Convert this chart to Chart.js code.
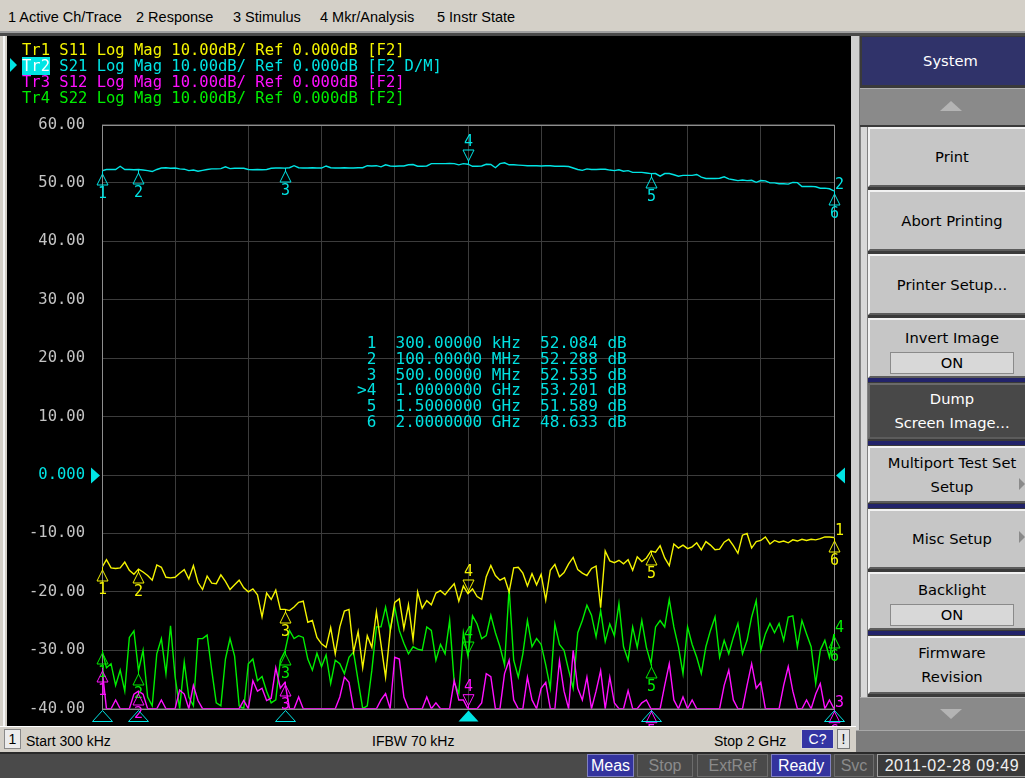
<!DOCTYPE html>
<html lang="en">
<head>
<meta charset="utf-8">
<title>E5071C – S-parameter display</title>
<script src="https://cdn.jsdelivr.net/npm/chart.js@4.4.1/dist/chart.umd.min.js"></script>
<style>
  html,body{margin:0;padding:0;}
  body{width:1025px;height:778px;overflow:hidden;position:relative;background:#d4d0c8;font-family:"DejaVu Sans",sans-serif;}
  .abs{position:absolute;box-sizing:border-box;}
  #menubar{left:0;top:0;width:1025px;height:31px;font:14.5px "Liberation Sans",sans-serif;color:#000;}
  #menubar span{position:absolute;top:9px;white-space:nowrap;}
  #win{left:7px;top:36px;width:844px;height:690px;background:#000;overflow:hidden;}
  #hdr{left:22px;top:42px;font:15.5px "DejaVu Sans Mono",monospace;line-height:16px;white-space:pre;}
  #hdr .act{background:#00e4e4;color:#fff;}
  #actArrow{left:10px;top:58px;width:0;height:0;border-top:7px solid transparent;border-bottom:7px solid transparent;border-left:7px solid #00e4e4;}
  #mkrtbl{left:357px;top:335px;font:16px "DejaVu Sans Mono",monospace;line-height:15.8px;white-space:pre;color:#00e0e0;}
  .sk{position:absolute;left:868px;width:166px;background:#c6c6c6;border-top:2px solid #f2f2f2;border-left:2px solid #f2f2f2;border-bottom:2px solid #5c5c5c;box-sizing:border-box;display:flex;flex-direction:column;align-items:center;justify-content:center;font:14.7px "DejaVu Sans",sans-serif;color:#000;line-height:24px;text-align:center;white-space:nowrap;}
  .sk .box{width:124px;height:22px;line-height:20px;background:#d8d8d8;border:1px solid #8a8a8a;box-sizing:border-box;margin-top:2px;}
  .nav{position:absolute;left:868px;width:157px;height:4px;background:#22236a;}
  .st{position:absolute;font:14px "Liberation Sans",sans-serif;color:#000;white-space:nowrap;top:733px;}
  .bb{position:absolute;top:754px;height:23px;box-sizing:border-box;font:16px "Liberation Sans",sans-serif;line-height:21px;text-align:center;white-space:nowrap;}
</style>
</head>
<body>
<div id="menubar" class="abs">
  <span style="left:8px">1 Active Ch/Trace</span>
  <span style="left:136px">2 Response</span>
  <span style="left:233px">3 Stimulus</span>
  <span style="left:320px">4 Mkr/Analysis</span>
  <span style="left:437px">5 Instr State</span>
</div>
<div class="abs" style="left:0;top:31px;width:1025px;height:2px;background:#a0a0a0"></div>
<div class="abs" style="left:0;top:33px;width:1025px;height:3px;background:#4a4a4a"></div>
<div class="abs" style="left:3px;top:36px;width:2px;height:690px;background:#f6f6f6"></div>

<div id="win" class="abs"><canvas id="vna" width="844" height="699"></canvas></div>
<div id="actArrow" class="abs"></div>
<div id="hdr" class="abs"></div>
<div id="mkrtbl" class="abs"></div>

<!-- softkey panel -->
<div class="abs" style="left:851px;top:36px;width:9px;height:694px;background:#cfcfcf;border-right:1px solid #7a7a7a"></div>
<div class="abs" style="left:860px;top:36px;width:165px;height:694px;background:#3a3a3a"></div>
<div class="abs" style="left:860px;top:127px;width:8px;height:570px;background:#d8d8d8;border-left:1px solid #808080;border-right:1px solid #808080"></div>
<div class="abs" style="left:862px;top:37px;width:163px;height:48px;background:#30336a;color:#fff;font:14.7px 'DejaVu Sans',sans-serif;text-align:center;line-height:48px;padding-left:14px">System</div>
<div class="abs" style="left:860px;top:88px;width:165px;height:37px;background:#8a8a8a;border-top:1px solid #b0b0b0"></div>
<div class="abs" style="left:940px;top:101px;width:0;height:0;border-left:11px solid transparent;border-right:11px solid transparent;border-bottom:10px solid #b4b4b4"></div>

<div class="sk" style="top:127px;height:60px">Print</div>
<div class="sk" style="top:190px;height:61px">Abort Printing</div>
<div class="sk" style="top:254px;height:61px">Printer Setup...</div>
<div class="sk" style="top:318px;height:60px;justify-content:flex-start;padding-top:6px">Invert Image<div class="box">ON</div></div>
<div class="nav" style="top:378px"></div>
<div class="sk" style="top:383px;height:56px;background:#484848;color:#fff;border-top-color:#6a6a6a;border-left-color:#6a6a6a">Dump<br>Screen Image...</div>
<div class="nav" style="top:441px"></div>
<div class="sk" style="top:446px;height:57px">Multiport Test Set<br>Setup</div>
<div class="nav" style="top:504px"></div>
<div class="sk" style="top:509px;height:60px">Misc Setup</div>
<div class="sk" style="top:572px;height:58px;justify-content:flex-start;padding-top:4px">Backlight<div class="box">ON</div></div>
<div class="nav" style="top:631px"></div>
<div class="sk" style="top:636px;height:58px">Firmware<br>Revision</div>
<div class="abs" style="left:1019px;top:478px;width:0;height:0;border-top:6px solid transparent;border-bottom:6px solid transparent;border-left:6px solid #8a8a8a"></div>
<div class="abs" style="left:1019px;top:531px;width:0;height:0;border-top:6px solid transparent;border-bottom:6px solid transparent;border-left:6px solid #8a8a8a"></div>
<div class="abs" style="left:860px;top:697px;width:165px;height:33px;background:#8a8a8a;border-top:1px solid #b0b0b0"></div>
<div class="abs" style="left:940px;top:709px;width:0;height:0;border-left:11px solid transparent;border-right:11px solid transparent;border-top:10px solid #b4b4b4"></div>

<!-- channel status line -->
<div class="abs" style="left:0;top:726px;width:856px;height:26px;background:#d4d0c8;border-top:1px solid #ffffff"></div>
<div class="abs" style="left:856px;top:730px;width:169px;height:22px;background:#7c7c7c;border-top:1px solid #a8a8a8"></div>
<div class="abs" style="left:4px;top:729px;width:17px;height:20px;background:#ececec;border:1px solid #8a8a8a;font:14px 'Liberation Sans',sans-serif;text-align:center;line-height:18px">1</div>
<div class="st" style="left:26px">Start 300 kHz</div>
<div class="st" style="left:372px">IFBW 70 kHz</div>
<div class="st" style="left:714px">Stop 2 GHz</div>
<div class="abs" style="left:801px;top:729px;width:33px;height:20px;background:#3434a4;border:1px solid #d8d8d8;color:#fff;font:14px 'Liberation Sans',sans-serif;text-align:center;line-height:18px">C?</div>
<div class="abs" style="left:837px;top:729px;width:13px;height:20px;background:#e4e4e4;border:1px solid #777;font:14px 'Liberation Sans',sans-serif;text-align:center;line-height:18px">!</div>

<!-- instrument status bar -->
<div class="abs" style="left:0;top:752px;width:1025px;height:26px;background:#4a4a4a;border-top:2px solid #2a2a2a"></div>
<div class="bb" style="left:587px;width:47px;background:#33339e;color:#fff;border:1px solid #8080c0">Meas</div>
<div class="bb" style="left:637px;width:56px;color:#8a8a8a;border:1px solid #6c6c6c">Stop</div>
<div class="bb" style="left:697px;width:71px;color:#8a8a8a;border:1px solid #6c6c6c">ExtRef</div>
<div class="bb" style="left:771px;width:60px;background:#33339e;color:#fff;border:1px solid #8080c0">Ready</div>
<div class="bb" style="left:834px;width:40px;color:#8a8a8a;border:1px solid #6c6c6c">Svc</div>
<div class="bb" style="left:877px;width:150px;color:#f0f0f0;background:#3a3a3a;border:1px solid #a0a0a0;letter-spacing:0.6px">2011-02-28 09:49</div>

<script>
// ---- sweep (stimulus) -------------------------------------------------------
const sweepStartMHz = 0.3;
const sweepStopMHz = 2000;
const sweepStepMHz = 12.5;
const sweepFreqMHz = [];
for (let i = 0; i * sweepStepMHz <= sweepStopMHz; i++) {
  sweepFreqMHz.push(i === 0 ? sweepStartMHz : i * sweepStepMHz);
}

// ---- measured traces, log magnitude in dB (161 points each) -----------------
const s21LogMagDb = [
  52.084, 52.3, 52.3, 52.3, 52.85, 52.3, 52.3, 52.25, 52.288, 52.2,
  52.1, 51.95, 52.3, 52.55, 52.6, 52.5, 52.55, 52.4, 52.35, 52.1,
  52.2, 52.0, 52.15, 52.3, 52.4, 52.4, 52.45, 52.75, 52.45, 52.5,
  52.5, 52.5, 52.3, 52.25, 52.3, 52.25, 52.3, 52.5, 52.55, 52.55,
  52.535, 52.6, 52.95, 52.6, 52.55, 52.55, 52.6, 52.55, 52.55, 52.9,
  52.6, 52.55, 52.55, 52.6, 52.55, 52.55, 52.6, 52.6, 52.95, 52.9,
  52.95, 52.75, 53.1, 52.9, 52.85, 52.9, 52.9, 53.1, 53.15, 52.85,
  52.85, 52.9, 53.3, 53.3, 53.3, 53.3, 53.35, 53.3, 53.1, 53.3,
  53.201, 52.85, 52.85, 52.9, 53.2, 53.15, 52.6, 53.3, 53.45, 53.1,
  53.1, 53.05, 53.0, 52.95, 52.95, 52.95, 52.9, 52.95, 52.95, 52.85,
  52.85, 52.85, 52.8, 52.55, 52.3, 52.15, 52.4, 52.3, 52.3, 52.35,
  52.35, 52.2, 52.1, 52.25, 52.0, 52.1, 51.8, 51.8, 51.8, 51.7,
  51.589, 51.6, 51.15, 51.6, 51.6, 51.4, 51.15, 51.3, 51.3, 51.3,
  51.45, 51.0, 50.75, 50.75, 50.75, 50.8, 51.05, 50.7, 50.55, 50.4,
  50.5, 50.4, 50.45, 50.1, 50.4, 50.35, 50.0, 50.0, 49.85, 49.85,
  49.8, 50.1, 50.05, 49.4, 49.4, 49.4, 49.35, 49.1, 49.1, 49.0,
  48.633
];
const s11LogMagDb = [
  -15.8, -14.5, -15.9, -16.0, -15.9, -14.9, -16.3, -17.0, -16.1, -16.6,
  -17.2, -18.0, -15.4, -15.8, -17.5, -17.6, -17.5, -16.8, -16.2, -17.8,
  -15.5, -18.4, -19.6, -17.3, -18.5, -18.6, -17.1, -18.2, -19.6, -18.8,
  -18.0, -19.3, -20.0, -19.5, -20.5, -24.3, -20.2, -21.3, -19.7, -23.0,
  -23.0, -23.2, -22.6, -21.8, -21.6, -25.2, -24.9, -27.8, -28.9, -29.5,
  -26.1, -30.6, -26.0, -23.3, -23.0, -30.3, -26.8, -33.0, -27.5, -29.5,
  -23.4, -29.0, -34.6, -26.8, -21.8, -21.2, -26.3, -22.2, -28.2, -20.0,
  -22.8, -21.5, -22.2, -20.2, -19.8, -20.5, -19.5, -18.6, -21.6, -19.0,
  -20.3, -19.5, -20.8, -21.3, -17.4, -15.5, -17.2, -18.0, -17.6, -20.0,
  -15.9, -15.8, -16.8, -19.0, -16.9, -18.8, -17.0, -21.4, -16.3, -15.3,
  -17.4, -16.7, -15.2, -14.1, -16.2, -16.8, -17.2, -16.0, -15.6, -22.7,
  -13.0, -14.7, -15.0, -14.6, -15.2, -14.5, -16.3, -14.0, -14.8, -14.2,
  -13.0, -13.2, -12.1, -14.2, -15.5, -11.8, -12.5, -12.0, -12.6, -12.3,
  -11.6, -12.8, -11.4, -12.0, -12.8, -12.7, -11.5, -11.0, -12.1, -13.4,
  -10.3, -10.0, -12.5, -11.4, -11.2, -10.6, -11.8, -11.2, -11.5, -11.3,
  -11.6, -11.1, -11.3, -11.0, -11.2, -11.0, -11.1, -10.9, -10.6, -10.6,
  -10.7
];
const s12LogMagDb = [
  -33.0, -40, -40, -38.5, -40, -40, -40, -37.5, -37.0, -37.5,
  -40, -40, -40, -38.5, -40, -40, -40, -36.8, -37.5, -40,
  -36.0, -38.6, -40, -40, -40, -40, -40, -40, -40, -40,
  -40, -38.6, -40, -35.2, -37.0, -36.5, -38.6, -38.2, -33.0, -36.5,
  -35.5, -40, -40, -38.0, -40, -40, -40, -40, -40, -40,
  -40, -40, -38.0, -34.6, -35.5, -40, -40, -40, -40, -40,
  -40, -38.5, -37.4, -40, -31.2, -31.5, -38.0, -40, -40, -40,
  -40, -38.0, -40, -39.0, -40, -40, -40, -35.2, -38.5, -38.5,
  -40, -40, -40, -39.0, -34.0, -34.5, -40, -40, -34.0, -31.7,
  -38.5, -40, -40, -34.6, -38.5, -40, -36.5, -35.5, -40, -40,
  -31.8, -37.0, -40, -30.0, -36.5, -38.5, -34.6, -40, -37.0, -33.5,
  -40, -34.6, -39.0, -40, -40, -36.9, -40, -40, -39.0, -38.5,
  -40, -40, -40, -36.0, -32.3, -38.5, -40, -38.0, -40, -38.5,
  -40, -40, -40, -40, -40, -40, -36.0, -33.4, -38.5, -40,
  -40, -36.0, -32.3, -36.5, -35.5, -40, -40, -40, -40, -36.0,
  -32.8, -37.0, -40, -40, -38.5, -40, -37.5, -35.7, -40, -38.5,
  -40
];
const s22LogMagDb = [
  -30.0, -33.0, -32.3, -36.0, -33.4, -37.0, -27.8, -26.7, -33.5, -30.0,
  -38.0, -39.5, -30.6, -28.0, -34.0, -25.8, -34.5, -40.0, -32.0, -38.0,
  -39.5, -28.0, -28.0, -27.4, -33.4, -39.0, -39.5, -31.5, -28.0, -31.0,
  -39.5, -40.0, -32.3, -31.5, -35.2, -34.5, -37.0, -39.0, -38.5, -31.7,
  -30.2, -26.6, -28.0, -27.5, -27.8, -31.5, -33.4, -30.5, -32.8, -30.8,
  -35.7, -31.7, -32.3, -34.0, -31.2, -30.3, -35.2, -40.0, -39.5, -33.4,
  -26.0, -26.0, -22.6, -26.5, -22.6, -26.6, -28.8, -30.6, -29.4, -29.8,
  -30.0, -26.0, -26.6, -31.7, -29.0, -30.6, -24.9, -35.5, -37.4, -27.0,
  -31.0, -24.1, -25.5, -28.0, -27.5, -24.0, -27.0, -29.4, -32.5, -19.4,
  -31.7, -34.6, -30.6, -24.9, -29.4, -28.0, -29.0, -32.5, -36.5, -25.5,
  -29.0, -30.0, -33.4, -36.5, -27.0, -24.9, -22.3, -24.0, -27.7, -23.2,
  -28.5, -25.5, -27.5, -22.0, -29.4, -31.7, -26.0, -29.5, -24.9, -29.5,
  -32.3, -26.0, -24.9, -26.0, -21.3, -26.0, -29.4, -34.0, -26.0, -29.0,
  -31.2, -34.0, -29.4, -26.6, -24.3, -31.2, -28.3, -30.6, -27.8, -25.4,
  -30.6, -28.3, -24.3, -21.5, -30.0, -27.2, -25.4, -27.0, -25.4, -28.3,
  -24.3, -24.1, -29.4, -24.9, -27.2, -29.4, -35.7, -30.0, -28.3, -31.2,
  -27.2
];

// ---- trace setup --------------------------------------------------------------
const traceNames  = ['Tr1', 'Tr2', 'Tr3', 'Tr4'];
const traceParams = ['S11', 'S21', 'S12', 'S22'];
const traceFlags  = ['F2', 'F2 D/M', 'F2', 'F2'];
const traceColors = ['#f4f400', '#00e4e4', '#ff10ff', '#00ee00'];
const traceData   = [s11LogMagDb, s21LogMagDb, s12LogMagDb, s22LogMagDb];
const drawOrder   = [2, 0, 1, 3];          // active trace on top
const activeTrace = 1;                      // Tr2
const scaleDivDb  = 10;
const refLevelDb  = 0;

// ---- markers --------------------------------------------------------------------
const markerFreqMHz = [0.3, 100, 500, 1000, 1500, 2000];
const activeMarker  = 3;                    // marker 4

// ---- axis grid and tick labels ---------------------------------------------------
const yGridDb     = [60, 50, 40, 30, 20, 10, 0, -10, -20, -30, -40];
const yTickLabels = ['60.00', '50.00', '40.00', '30.00', '20.00', '10.00', '0.000',
                     '-10.00', '-20.00', '-30.00', '-40.00'];
const xDivisions  = 10;

// ---- header lines -----------------------------------------------------------------
const hdr = document.getElementById('hdr');
traceNames.forEach((name, t) => {
  const line = document.createElement('div');
  line.style.color = traceColors[t];
  const rest = ` ${traceParams[t]} Log Mag ${scaleDivDb.toFixed(2)}dB/ Ref ${refLevelDb.toFixed(3)}dB [${traceFlags[t]}]`;
  if (t === activeTrace) {
    const tag = document.createElement('span');
    tag.className = 'act';
    tag.textContent = name;
    line.appendChild(tag);
    line.appendChild(document.createTextNode(rest));
  } else {
    line.textContent = name + rest;
  }
  hdr.appendChild(line);
});

// ---- marker readout for the active trace -----------------------------------------
function fmtFreq(mhz) {
  if (mhz < 1) return (mhz * 1000).toFixed(5) + ' kHz';
  if (mhz < 1000) return mhz.toFixed(5) + ' MHz';
  return (mhz / 1000).toFixed(7) + ' GHz';
}
const tbl = document.getElementById('mkrtbl');
tbl.textContent = markerFreqMHz.map((f, k) => {
  const v = traceData[activeTrace][sweepFreqMHz.indexOf(f)];
  return (k === activeMarker ? '>' : ' ') + (k + 1) + '  ' + fmtFreq(f) + '  ' + v.toFixed(3) + ' dB';
}).join('\n');

// ---- overlay: frame, reference arrows, markers, trace numbers -----------------------
const vnaOverlay = {
  id: 'vnaOverlay',
  afterDatasetsDraw(chart) {
    const { ctx, chartArea: a, scales: { x, y } } = chart;
    const act = traceColors[activeTrace];
    ctx.save();

    // graticule frame
    ctx.strokeStyle = '#8e8e8e';
    ctx.lineWidth = 1;
    ctx.strokeRect(Math.round(a.left) + 0.5, Math.round(a.top) + 0.5,
                   Math.round(a.right - a.left), Math.round(a.bottom - a.top));

    // reference-level arrows
    const yr = Math.round(y.getPixelForValue(refLevelDb)) + 0.5;
    ctx.fillStyle = act;
    ctx.beginPath();
    ctx.moveTo(a.left - 2, yr); ctx.lineTo(a.left - 11, yr - 8); ctx.lineTo(a.left - 11, yr + 8);
    ctx.closePath(); ctx.fill();
    ctx.beginPath();
    ctx.moveTo(a.right + 2, yr); ctx.lineTo(a.right + 11, yr - 8); ctx.lineTo(a.right + 11, yr + 8);
    ctx.closePath(); ctx.fill();

    ctx.font = '15px "DejaVu Sans Mono", monospace';
    ctx.textBaseline = 'middle';
    ctx.lineWidth = 1;

    drawOrder.slice().reverse().forEach(t => {
      const color = traceColors[t];
      const vals = traceData[t];
      ctx.strokeStyle = color;
      ctx.fillStyle = color;
      ctx.textAlign = 'center';
      markerFreqMHz.forEach((f, k) => {
        const i = sweepFreqMHz.indexOf(f);
        const px = Math.round(x.getPixelForValue(f)) + 0.5;
        const py = Math.min(Math.round(y.getPixelForValue(vals[i])), a.bottom);
        ctx.beginPath();
        if (k === activeMarker) {
          ctx.moveTo(px, py); ctx.lineTo(px, py - 4);
          ctx.moveTo(px, py - 3); ctx.lineTo(px - 5.5, py - 14); ctx.lineTo(px + 5.5, py - 14); ctx.closePath();
          ctx.stroke();
          ctx.fillText(String(k + 1), px, py - 22);
        } else {
          ctx.moveTo(px, py); ctx.lineTo(px, py + 4);
          ctx.moveTo(px, py + 3); ctx.lineTo(px - 5.5, py + 14); ctx.lineTo(px + 5.5, py + 14); ctx.closePath();
          ctx.stroke();
          ctx.fillText(String(k + 1), px, py + 23);
        }
      });
      // trace number at the end of the sweep
      const yEnd = Math.min(y.getPixelForValue(vals[vals.length - 1]), a.bottom);
      ctx.textAlign = 'left';
      ctx.fillText(traceNames[t].slice(2), a.right + 1, yEnd - 6);
    });

    // stimulus markers along the frequency axis
    ctx.strokeStyle = act;
    ctx.fillStyle = act;
    markerFreqMHz.forEach((f, k) => {
      const px = Math.round(x.getPixelForValue(f)) + 0.5;
      const yb = Math.round(a.bottom) + 1.5;
      ctx.beginPath();
      ctx.moveTo(px, yb); ctx.lineTo(px - 10, yb + 11); ctx.lineTo(px + 10, yb + 11); ctx.closePath();
      if (k === activeMarker) ctx.fill(); else ctx.stroke();
    });
    ctx.restore();
  }
};

// ---- chart ------------------------------------------------------------------------
const datasets = traceData.map((vals, t) => ({
  label: traceParams[t],
  data: vals.map((v, i) => ({ x: sweepFreqMHz[i], y: v })),
  borderColor: traceColors[t],
  borderWidth: 1.4,
  pointRadius: 0,
  tension: 0,
  fill: false,
  order: drawOrder[t]
}));

new Chart(document.getElementById('vna'), {
  type: 'line',
  data: { datasets },
  options: {
    responsive: false,
    animation: false,
    events: [],
    layout: { padding: { left: 0, top: 88.5, right: 17, bottom: 18 } },
    plugins: { legend: { display: false }, tooltip: { enabled: false } },
    scales: {
      x: {
        type: 'linear',
        min: sweepStartMHz,
        max: sweepStopMHz,
        afterBuildTicks: s => {
          const span = sweepStopMHz - sweepStartMHz;
          s.ticks = Array.from({ length: xDivisions + 1 }, (_, k) => ({ value: sweepStartMHz + span * k / xDivisions }));
        },
        afterFit: s => { s.height = 0; },
        ticks: { display: false },
        grid: { color: '#3c3c3c', drawTicks: false },
        border: { display: false }
      },
      y: {
        min: -40,
        max: 60,
        afterBuildTicks: s => { s.ticks = yGridDb.map(v => ({ value: v })); },
        afterFit: s => { s.width = 95; },
        ticks: {
          callback: v => yTickLabels[yGridDb.indexOf(v)],
          color: c => (c.tick && c.tick.value === refLevelDb) ? traceColors[activeTrace] : '#c4c4c4',
          font: { family: 'DejaVu Sans Mono', size: 15.5 },
          padding: 17
        },
        grid: { color: '#3c3c3c', drawTicks: false },
        border: { display: false }
      }
    }
  },
  plugins: [vnaOverlay]
});
</script>
</body>
</html>
